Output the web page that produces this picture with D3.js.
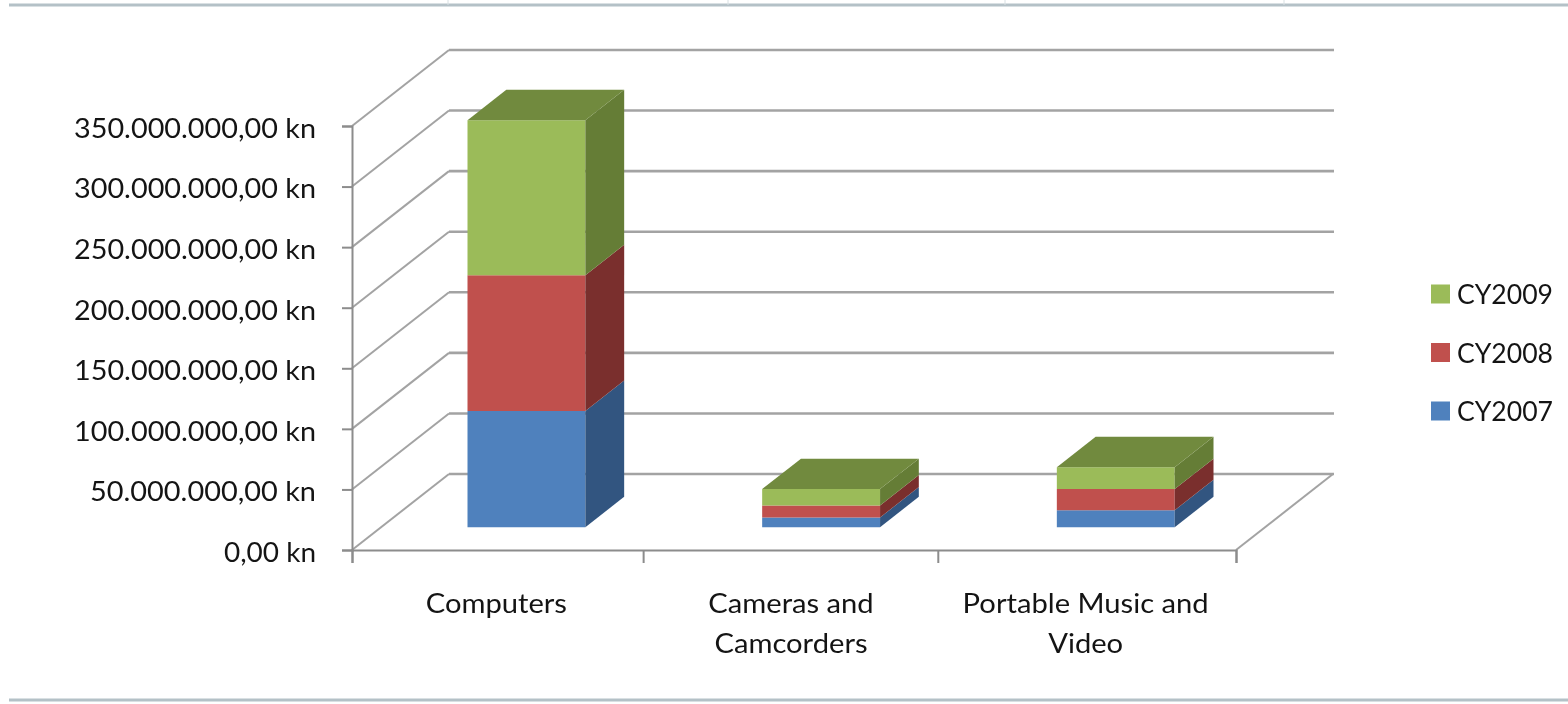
<!DOCTYPE html>
<html>
<head>
<meta charset="utf-8">
<script src="https://cdn.jsdelivr.net/npm/d3@7"></script>
<style>
html, body { margin: 0; padding: 0; background: #fff; }
svg { display: block; filter: blur(0.6px); }
text { font-family: Lato, sans-serif; fill: #141414; }
</style>
</head>
<body>
<div id="chart"></div>
<script>
const categories = [["Computers"], ["Cameras and", "Camcorders"], ["Portable Music and", "Video"]];
const seriesNames = ["CY2007", "CY2008", "CY2009"];
const cy2007 = [96000000, 8000000, 14000000];
const cy2008 = [112000000, 10000000, 17500000];
const cy2009 = [128000000, 13500000, 18000000];
const yTicks = [0, 50000000, 100000000, 150000000, 200000000, 250000000, 300000000, 350000000];

const colors = {
    CY2007: {front: "#4f81bd", side: "#325580"},
    CY2008: {front: "#c0504d", side: "#7a2f2d"},
    CY2009: {front: "#9bbb59", side: "#657d36", top: "#718a3e"}
};

const width = 1568, height = 704;
const svg = d3.select("#chart").append("svg")
    .attr("width", width)
    .attr("height", height);

const left = 352, right = 1236;
const y = d3.scaleLinear().domain([0, 350000000]).range([550, 126]);
const depthX = 97, depthY = -76;

// category edges, used for the tick marks
const xTick = d3.scaleLinear().domain([0, 3]).range([left, right]);
const xLabel = d3.scaleBand().domain(d3.range(3)).range([left - 3, right - 3]);
const xBar = d3.scaleBand().domain(d3.range(3)).range([left - 2, right - 2])
    .paddingInner(0.6).paddingOuter(0.3);

// floor depth: 0 is front of the chart, 1 is the back wall
function project(px, py, d) {
    return [px + d * depthX, py + d * depthY];
}

// top and bottom frame of the screenshot
svg.append("path").attr("d", "M9,5H1568").attr("stroke", "#b4c1c7").attr("stroke-width", 3).attr("fill", "none");
svg.append("path").attr("d", "M9,700H1568").attr("stroke", "#b4c1c7").attr("stroke-width", 3).attr("fill", "none");
svg.append("path").attr("d", "M448,0V5M728,0V5M1005,0V5M1284,0V5").attr("stroke", "#d8e0e3").attr("fill", "none");

// walls
const grid = svg.append("g").attr("fill", "none").attr("stroke", "#a3a3a3");
yTicks.forEach(function (v) {
    const a = [left, y(v)];
    const b = project(left, y(v), 1);
    grid.append("path").attr("stroke-width", 2).attr("d", d3.line()([a, b]));
    grid.append("path").attr("stroke-width", 2.6).attr("d", d3.line()([b, [right + depthX + 1, b[1]]]));
});
grid.append("path").attr("stroke-width", 2).attr("d", d3.line()([[right, y(0)], project(right, y(0), 1)]));

// Add the Y Axis
const yAxis = d3.axisLeft(y)
    .tickValues(yTicks)
    .tickSize(10)
    .tickPadding(26)
    .tickFormat(function (d) {
        return d3.format(",.2f")(d).replace(/,/g, "#").replace(".", ",").replace(/#/g, ".") + " kn";
    });
const yG = svg.append("g")
    .attr("transform", "translate(" + left + ",0)")
    .call(yAxis);
yG.selectAll("path, line").attr("stroke", "#8c8c8c").attr("stroke-width", 2);
yG.selectAll("text")
    .style("font-size", "27px")
    .attr("dy", "0.42em")
    .attr("textLength", function (d) { return d === 0 ? 92 : (d < 100000000 ? 226 : 242); })
    .attr("lengthAdjust", "spacingAndGlyphs");

// Add the X Axis
const xG = svg.append("g")
    .attr("transform", "translate(0," + y(0) + ")")
    .call(d3.axisBottom(xTick).tickValues([0, 0.988, 1.988, 3]).tickSize(13).tickFormat(""));
xG.selectAll("path, line").attr("stroke", "#8c8c8c").attr("stroke-width", 2);

categories.forEach(function (lines, i) {
    lines.forEach(function (line, j) {
        const t = svg.append("text")
            .attr("class", "cat-label")
            .attr("x", xLabel(i) + xLabel.bandwidth() / 2)
            .attr("y", 613 + j * 40)
            .attr("text-anchor", "middle")
            .attr("lengthAdjust", "spacingAndGlyphs")
            .style("font-size", "27px")
            .text(line);
        // the original text is a bit wider than Lato
        t.attr("textLength", t.node().getComputedTextLength() * 1.08);
    });
});

// stacked 3d bars
const rows = d3.range(3).map(function (i) {
    return {CY2007: cy2007[i], CY2008: cy2008[i], CY2009: cy2009[i]};
});
const stacked = d3.stack().keys(seriesNames)(rows);
const front = 0.3, back = 0.7;
const poly = d3.line();

stacked.forEach(function (layer) {
    const c = colors[layer.key];
    layer.forEach(function (d, i) {
        const x0 = xBar(i), x1 = x0 + xBar.bandwidth();
        const yb = y(d[0]), yt = y(d[1]);
        const fbl = project(x0, yb, front), fbr = project(x1, yb, front);
        const ftl = project(x0, yt, front), ftr = project(x1, yt, front);
        const bbr = project(x1, yb, back), btr = project(x1, yt, back), btl = project(x0, yt, back);
        svg.append("path").attr("fill", c.front).attr("d", poly([fbl, fbr, ftr, ftl]) + "Z");
        svg.append("path").attr("fill", c.side).attr("d", poly([fbr, bbr, btr, ftr]) + "Z");
        if (c.top) {
            svg.append("path").attr("fill", c.top).attr("d", poly([ftl, ftr, btr, btl]) + "Z");
        }
    });
});

// legend, top entry is the last series
const legendY = d3.scalePoint().domain(seriesNames.slice().reverse()).range([294, 411]);
seriesNames.forEach(function (name) {
    svg.append("rect")
        .attr("x", 1431).attr("y", legendY(name) - 9.5)
        .attr("width", 19).attr("height", 19)
        .attr("fill", colors[name].front);
    svg.append("text")
        .attr("x", 1457).attr("y", legendY(name) + 10)
        .attr("textLength", 96)
        .attr("lengthAdjust", "spacingAndGlyphs")
        .style("font-size", "27px")
        .text(name);
});
</script>
</body>
</html>
